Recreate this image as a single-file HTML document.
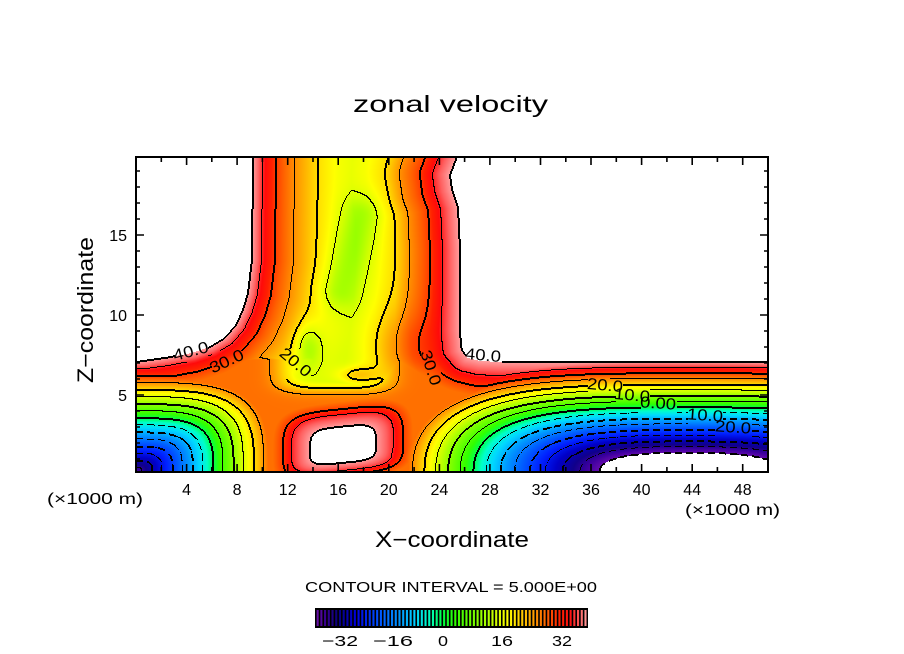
<!DOCTYPE html>
<html><head><meta charset="utf-8">
<style>
html,body{margin:0;padding:0;background:#fff;}
#wrap{position:relative;width:904px;height:654px;overflow:hidden;background:#fff;}
#c{position:absolute;left:136px;top:157px;width:632px;height:315px;image-rendering:pixelated;}
#s{position:absolute;left:0;top:0;}
text{font-family:"Liberation Sans",sans-serif;fill:#000;}
</style></head><body>
<div id="wrap">
<canvas id="c" width="632" height="315"></canvas>
<svg id="s" width="904" height="654" viewBox="0 0 904 654" xmlns="http://www.w3.org/2000/svg">
<text x="353" y="112" font-size="23" textLength="195" lengthAdjust="spacingAndGlyphs">zonal velocity</text>
<rect x="136" y="157" width="632" height="315" fill="none" stroke="#000" stroke-width="2"/>
<path id="ticks" d="" stroke="#000" stroke-width="1.6" fill="none"/>
<g font-size="16">
<text x="127" y="241" text-anchor="end">15</text>
<text x="127" y="321" text-anchor="end">10</text>
<text x="127" y="401" text-anchor="end">5</text>
<text x="186.6" y="495" text-anchor="middle">4</text>
<text x="237.1" y="495" text-anchor="middle">8</text>
<text x="287.7" y="495" text-anchor="middle">12</text>
<text x="338.2" y="495" text-anchor="middle">16</text>
<text x="388.8" y="495" text-anchor="middle">20</text>
<text x="439.4" y="495" text-anchor="middle">24</text>
<text x="489.9" y="495" text-anchor="middle">28</text>
<text x="540.5" y="495" text-anchor="middle">32</text>
<text x="591.0" y="495" text-anchor="middle">36</text>
<text x="641.6" y="495" text-anchor="middle">40</text>
<text x="692.2" y="495" text-anchor="middle">44</text>
<text x="742.7" y="495" text-anchor="middle">48</text>
<text x="47" y="504" textLength="96" lengthAdjust="spacingAndGlyphs">(×1000 m)</text>
<text x="685" y="515" textLength="95" lengthAdjust="spacingAndGlyphs">(×1000 m)</text>
</g>
<text x="375" y="547" font-size="22" textLength="154" lengthAdjust="spacingAndGlyphs">X−coordinate</text>
<text transform="translate(93,383) rotate(-90)" x="0" y="0" font-size="22" textLength="146" lengthAdjust="spacingAndGlyphs">Z−coordinate</text>
<text x="305" y="592" font-size="15" textLength="292" lengthAdjust="spacingAndGlyphs">CONTOUR INTERVAL = 5.000E+00</text>
<rect x="315" y="608" width="273" height="20" fill="#000"/>
<g id="cb"></g>
<g font-size="15">
<text x="322" y="646" textLength="36" lengthAdjust="spacingAndGlyphs">−32</text>
<text x="373" y="646" textLength="40" lengthAdjust="spacingAndGlyphs">−16</text>
<text x="438" y="646" textLength="10" lengthAdjust="spacingAndGlyphs">0</text>
<text x="491" y="646" textLength="22" lengthAdjust="spacingAndGlyphs">16</text>
<text x="552" y="646" textLength="20" lengthAdjust="spacingAndGlyphs">32</text>
</g>
<g font-size="16" text-anchor="middle" dominant-baseline="central">
<text transform="translate(191,352) rotate(-15)" textLength="36" lengthAdjust="spacingAndGlyphs">40.0</text>
<text transform="translate(227,362) rotate(-25)" textLength="36" lengthAdjust="spacingAndGlyphs">30.0</text>
<text transform="translate(295,363) rotate(40)" textLength="36" lengthAdjust="spacingAndGlyphs">20.0</text>
<text transform="translate(430,368) rotate(72)" textLength="36" lengthAdjust="spacingAndGlyphs">30.0</text>
<text transform="translate(483,356) rotate(5)" textLength="36" lengthAdjust="spacingAndGlyphs">40.0</text>
<text transform="translate(605,386) rotate(5)" textLength="36" lengthAdjust="spacingAndGlyphs">20.0</text>
<text transform="translate(632,396) rotate(5)" textLength="36" lengthAdjust="spacingAndGlyphs">10.0</text>
<text transform="translate(658,404) rotate(4)" textLength="36" lengthAdjust="spacingAndGlyphs">0.00</text>
<text transform="translate(705,416) rotate(4)" textLength="36" lengthAdjust="spacingAndGlyphs">10.0</text>
<text transform="translate(733,428) rotate(4)" textLength="36" lengthAdjust="spacingAndGlyphs">20.0</text>
</g>
</svg>
</div>
<script>
(function(){
const X0=136,Y0=157,W=632,H=315,SY=1.2;
function tab(t,v){const n=t.length;if(v<=t[0][0])return t[0][1];for(let i=1;i<n;i++){if(v<=t[i][0]){const a=t[i-1],b=t[i];return a[1]+(b[1]-a[1])*(v-a[0])/(b[0]-a[0]);}}return t[n-1][1];}
const WL=[[-1000,-1000],[253,-1000],[253,157],[252,260],[248,293],[243,310],[236,325],[225,338],[210,347],[192,353],[165,358],[136,362],[-1000,362]];
const WR=[[457,157],[457,-1000],[2000,-1000],[2000,362],[500,362],[480,361],[468,358],[462,350],[460,330],[460,250],[458,207],[452,190],[450,175]];
function inPoly(P,x,y){let c=false;for(let i=0,j=P.length-1;i<P.length;j=i++){const xi=P[i][0],yi=P[i][1],xj=P[j][0],yj=P[j][1];if(((yi>y)!=(yj>y))&&(x<(xj-xi)*(y-yi)/(yj-yi)+xi))c=!c;}return c;}
function dPoly(P,x,y){let m=1e12;const px=x,py=y*SY;for(let i=0,j=P.length-1;i<P.length;j=i++){const ax=P[j][0],ay=P[j][1]*SY,bx=P[i][0],by=P[i][1]*SY;const vx=bx-ax,vy=by-ay;const L=vx*vx+vy*vy;let t=L>0?((px-ax)*vx+(py-ay)*vy)/L:0;t=t<0?0:t>1?1:t;const dx=px-ax-t*vx,dy=py-ay-t*vy;const d=dx*dx+dy*dy;if(d<m)m=d;}return Math.sqrt(m);}
function segd(x,y,ax,ay,bx,by){const vx=bx-ax,vy=by-ay;let t=((x-ax)*vx+(y-ay)*vy)/(vx*vx+vy*vy);t=t<0?0:t>1?1:t;const dx=x-ax-t*vx,dy=y-ay-t*vy;return Math.sqrt(dx*dx+dy*dy);}
function g2(x,y,ax,ay,sx,sy){const a=(x-ax)/sx,b=(y-ay)/sy;return Math.exp(-0.5*(a*a+b*b));}
const GL=[[0,40],[10,35],[23,30],[42,25],[65,20],[85,17],[110,15],[150,13],[300,11]];
const GR=[[0,40],[17,35],[30,30],[50,25],[65,20],[85,17],[110,15],[150,13],[300,11]];
const BOXT=[[0,44],[0.45,41.5],[0.55,40],[0.85,35],[1.0,30],[1.28,25],[1.45,20],[1.8,12],[3,0]];
function plat(x,y){
  if(y<330)return 0;
  const T=y>360?1:(y-330)/30;
  const xf=Math.exp(-Math.pow((x-335)/55,4));
  const yf=1/(1+Math.exp((y-388)/4));
  return T*(27-14*xf*yf);
}
function field(x,y){
  let gc;
  if(inPoly(WL,x,y)||inPoly(WR,x,y)){gc=50;}
  else{
    const a=tab(GL,dPoly(WL,x,y)),b=tab(GR,dPoly(WR,x,y));
    gc=Math.max(a,b);
    const d1=segd(x,y,362,215,340,290);gc+=-5*Math.exp(-d1*d1/(2*14*14));
    gc+=-6*g2(x,y,308,347,9,16);
    gc+=6*g2(x,y,356,375,14,6);
    gc+=5*g2(x,y,398,350,22,28);
  }
  const cy=448-0.1*(x-343);
  const bdx=(x-343)/60,bdy=y<cy?(cy-y)/39:(y-cy)/27;
  const bd=Math.pow(bdx*bdx*bdx*bdx+bdy*bdy*bdy*bdy,0.25);
  const bx=tab(BOXT,bd);
  const pl=plat(x,y);
  let u=Math.max(gc,bx,pl);
  const lx=Math.max(0,x-136)/118,ly=Math.max(0,472-y)/82;
  const ld=Math.pow(Math.pow(lx,3.5)+Math.pow(ly,3.5),1/3.5);
  const lc=-38+58*ld;
  const rdx=690-x;const Dx=rdx>0?0.159*rdx+0.000517*rdx*rdx:0.2*(-rdx);
  const Dy=0.88*Math.max(0,474-y);
  const Dd=Math.pow(Math.pow(Dx,2.5)+Math.pow(Dy,2.5),0.4);
  const rc=-58.7+Dd;
  return Math.min(u,lc,rc);
}
const CM=[[-41,112,16,176],[-37,64,0,160],[-33,16,0,138],[-28,0,0,200],[-23,0,32,255],[-17,0,96,255],[-12,0,152,255],[-7,0,216,255],[-3,0,255,200],[0,0,255,80],[3,48,255,0],[9,128,255,0],[14,208,255,0],[17.5,255,255,0],[21,255,208,0],[24,255,160,0],[28,255,96,0],[31.5,255,32,0],[34,255,10,10],[37,255,96,96],[40,255,160,160]];
function cmap(v,out){
  if(v>40||v<-40){out[0]=255;out[1]=255;out[2]=255;return;}
  if(v<=CM[0][0]){out[0]=CM[0][1];out[1]=CM[0][2];out[2]=CM[0][3];return;}
  for(let i=1;i<CM.length;i++){if(v<=CM[i][0]){const a=CM[i-1],b=CM[i];const t=(v-a[0])/(b[0]-a[0]);out[0]=a[1]+(b[1]-a[1])*t;out[1]=a[2]+(b[2]-a[2])*t;out[2]=a[3]+(b[3]-a[3])*t;return;}}
  const l=CM[CM.length-1];out[0]=l[1];out[1]=l[2];out[2]=l[3];
}
const BOXES=[[175,344,207,361],[212,351,242,375],[281,349,310,378],[421,351,440,387],[466,348,501,365],[588,379,622,393],[616,389,649,403],[641,398,676,412],[688,409,722,423],[716,421,751,437]];
function inLab(i,j){const x=i+X0,y=j+Y0;for(const b of BOXES){if(x>=b[0]&&x<=b[2]&&y>=b[1]&&y<=b[3])return true;}return false;}
const cv=document.getElementById('c');const ctx=cv.getContext('2d');
const img=ctx.createImageData(W,H);const P=img.data;
const W1=W+1;const U=new Float32Array(W1*(H+1));
for(let j=0;j<=H;j++)for(let i=0;i<=W;i++)U[j*W1+i]=field(X0+i+0.5,Y0+j+0.5);
const c=[0,0,0];
for(let j=0;j<H;j++)for(let i=0;i<W;i++){cmap(U[j*W1+i],c);const o=(j*W+i)*4;P[o]=c[0];P[o+1]=c[1];P[o+2]=c[2];P[o+3]=255;}
function blk(i,j){if(i<0||j<0||i>=W||j>=H)return;if(inLab(i,j))return;const o=(j*W+i)*4;P[o]=0;P[o+1]=0;P[o+2]=0;}
function handle(i,j,L,i2,j2,dc){
  if(L>40||L<-40)return;
  if(L<0&&(dc%11)>=7)return;
  blk(i,j);
  if(L%10===0)blk(i2,j2);
}
for(let j=0;j<H;j++)for(let i=0;i<W;i++){
  const v=U[j*W1+i],k=Math.floor(v/5);
  const kr=Math.floor(U[j*W1+i+1]/5);
  const kd=Math.floor(U[(j+1)*W1+i]/5);
  if(kr!==k){handle(i,j,5*(Math.min(k,kr)+1),i+1,j,j);}
  if(kd!==k){handle(i,j,5*(Math.min(k,kd)+1),i,j+1,i);}
}
ctx.putImageData(img,0,0);
let d='';
for(let z=1;z<=19;z++){const y=475-16*z;const L=(z%5===0)?8:4;d+='M136 '+y+'h'+L+'M768 '+y+'h'+(-L);}
for(let k=2;k<=48;k+=2){const x=(136+12.64*k).toFixed(1);const L=(k%4===0)?8:5;d+='M'+x+' 472v'+(-L)+'M'+x+' 157v'+L;}
document.getElementById('ticks').setAttribute('d',d);
const CB=[[317,106,16,168],[325,58,0,144],[338,8,0,122],[356,0,0,224],[378,0,80,255],[398,0,144,255],[415,0,208,255],[430,0,255,192],[443,0,255,64],[455,48,255,0],[476,128,255,0],[496,208,255,0],[508,255,255,0],[520,255,208,0],[533,255,160,0],[547,255,96,0],[560,255,32,0],[570,255,16,16],[580,255,96,96],[587,255,160,160]];
function cbcol(p){if(p<=CB[0][0])return CB[0].slice(1);for(let i=1;i<CB.length;i++){if(p<=CB[i][0]){const a=CB[i-1],b=CB[i];const t=(p-a[0])/(b[0]-a[0]);return [a[1]+(b[1]-a[1])*t,a[2]+(b[2]-a[2])*t,a[3]+(b[3]-a[3])*t];}}return CB[CB.length-1].slice(1);}
const g=document.getElementById('cb');const NS='http://www.w3.org/2000/svg';
for(let p=316.6;p<586.5;p+=3.72){const q=cbcol(p+1);const r=document.createElementNS(NS,'rect');r.setAttribute('x',p.toFixed(2));r.setAttribute('y','610');r.setAttribute('width','2.1');r.setAttribute('height','16');r.setAttribute('fill','rgb('+Math.round(q[0])+','+Math.round(q[1])+','+Math.round(q[2])+')');g.appendChild(r);}
})();
</script>
</body></html>
